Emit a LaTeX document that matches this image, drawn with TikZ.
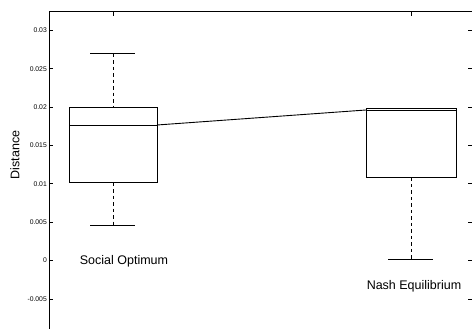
\documentclass[tikz,border=0pt]{standalone}
\usepackage{fontspec}
\setmainfont{Liberation Sans}
\begin{document}
\begin{tikzpicture}[x=1pt,y=-1pt,
  axis/.style={line width=1pt,black},
  boxln/.style={line width=0.9pt,black},
  whisk/.style={line width=0.9pt,dash pattern=on 3.5pt off 3pt},
  capln/.style={line width=1.1pt},
  tick/.style={line width=0.7pt},
  ticklab/.style={font=\fontsize{6.8}{8}\selectfont,anchor=east,inner sep=0pt},
  catlab/.style={font=\fontsize{12.5}{14}\selectfont,inner sep=0pt}]
\useasboundingbox (0,0) rectangle (472,329);
% axes
\draw[axis] (49,329) -- (49,12) -- (472,12);
% y ticks and labels
\foreach \v/\l in {0.03/0.03,0.025/0.025,0.02/0.02,0.015/0.015,0.01/0.01,0.005/0.005,0/0,-0.005/-0.005}{
  \pgfmathsetmacro{\yy}{260.5-\v*7670}
  \draw[tick] (49,\yy) -- (53,\yy);
  \draw[tick] (468,\yy) -- (472,\yy);
  \node[ticklab] at (47,\yy) {\l};
}
% top ticks
\draw[tick] (113,12) -- (113,16);
\draw[tick] (411,12) -- (411,16);
% y label
\node[rotate=90,font=\fontsize{12.5}{14}\selectfont,inner sep=0pt] (ylab) at (15,155) {Distance};
% left box (Social Optimum)
\coordinate (sowt) at (113,53.7);
\coordinate (sowb) at (113,225.7);
\draw[boxln] (69,107) rectangle (157,182.7);
\coordinate (sotop) at (113,107);
\coordinate (sobot) at (113,182.7);
\coordinate (somed) at (157,125);
\draw[boxln] (69,125) -- (somed);
\draw[whisk] (sowt) -- (sotop);
\draw[whisk] (sobot) -- (sowb);
\draw[capln] (90,53.7) -- (135,53.7);
\draw[capln] (90,225.7) -- (135,225.7);
% right box (Nash Equilibrium)
\draw[boxln] (366,108) rectangle (456,177.3);
\coordinate (nemed) at (366,110);
\draw[boxln] (nemed) -- (456,110);
\coordinate (nebot) at (411,177.3);
\coordinate (newb) at (411,259.3);
\draw[whisk] (nebot) -- (newb);
\draw[capln] (388,259.3) -- (433,259.3);
% median connecting line
\draw[boxln] (somed) -- (nemed);
% category labels
\node[catlab] (so) at (124,261) {Social Optimum};
\node[catlab] (ne) at (414,286) {Nash Equilibrium};
\end{tikzpicture}
\end{document}
